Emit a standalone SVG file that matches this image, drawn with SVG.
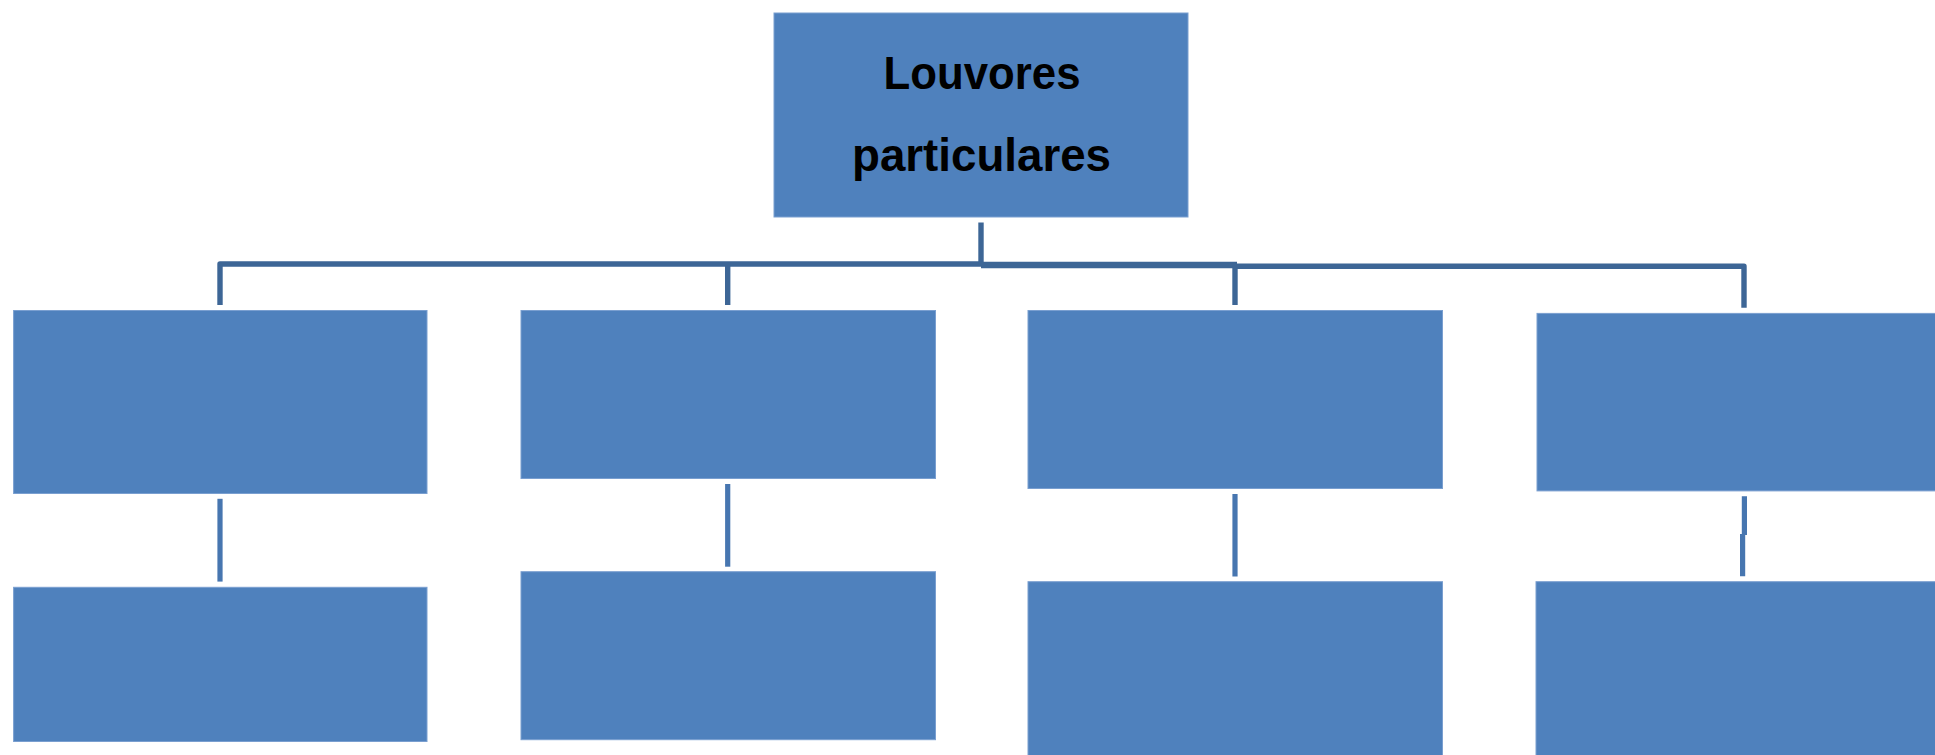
<svg xmlns="http://www.w3.org/2000/svg" width="1935" height="755" viewBox="0 0 1935 755">
<style>
.box{fill:#4F81BD;stroke:#7A9FD0;stroke-width:1}
.ln{fill:none;stroke:#3D6696;stroke-width:5.4;stroke-linejoin:round}
.ln2{fill:none;stroke:#4776B0;stroke-width:5.2}
.t{font-family:"Liberation Sans",Arial,sans-serif;font-weight:bold;font-size:46px;fill:#000;text-anchor:middle}
</style>
<rect width="1935" height="755" fill="#fff"/>
<g id="connectors">
<path class="ln" d="M981,222.5 V266"/>
<path class="ln" d="M220,305 V264 H981"/>
<path class="ln" d="M727.7,264 V305"/>
<path class="ln" d="M981,265 H1237" style="stroke-width:6.6"/>
<path class="ln" d="M1235,266 V305"/>
<path class="ln" d="M1235,266.2 H1744 V307.7"/>
<path class="ln2" d="M220,498.8 V581.6"/>
<path class="ln2" d="M727.7,484 V566.7"/>
<path class="ln2" d="M1235,494 V576.5"/>
<path class="ln2" d="M1744.4,496.3 V535 M1742.6,534 V576.3"/>
</g>
<g id="root">
<rect class="box" x="774" y="13" width="414" height="204"/>
<text class="t" x="982" y="89.3" textLength="197" lengthAdjust="spacingAndGlyphs">Louvores</text>
<text class="t" x="981.5" y="170.7" textLength="259" lengthAdjust="spacingAndGlyphs">particulares</text>
</g>
<g id="n1"><rect class="box" x="13.6" y="310.5" width="413.4" height="183"/></g>
<g id="n2"><rect class="box" x="521" y="310.5" width="414.5" height="168"/></g>
<g id="n3"><rect class="box" x="1028" y="310.5" width="414.5" height="178"/></g>
<g id="n4"><rect class="box" x="1537" y="313.4" width="410" height="177.5"/></g>
<g id="n5"><rect class="box" x="13.6" y="587.3" width="413.4" height="154.2"/></g>
<g id="n6"><rect class="box" x="521" y="571.7" width="414.5" height="168"/></g>
<g id="n7"><rect class="box" x="1028" y="581.7" width="414.5" height="180"/></g>
<g id="n8"><rect class="box" x="1536" y="581.7" width="410" height="180"/></g>
</svg>
